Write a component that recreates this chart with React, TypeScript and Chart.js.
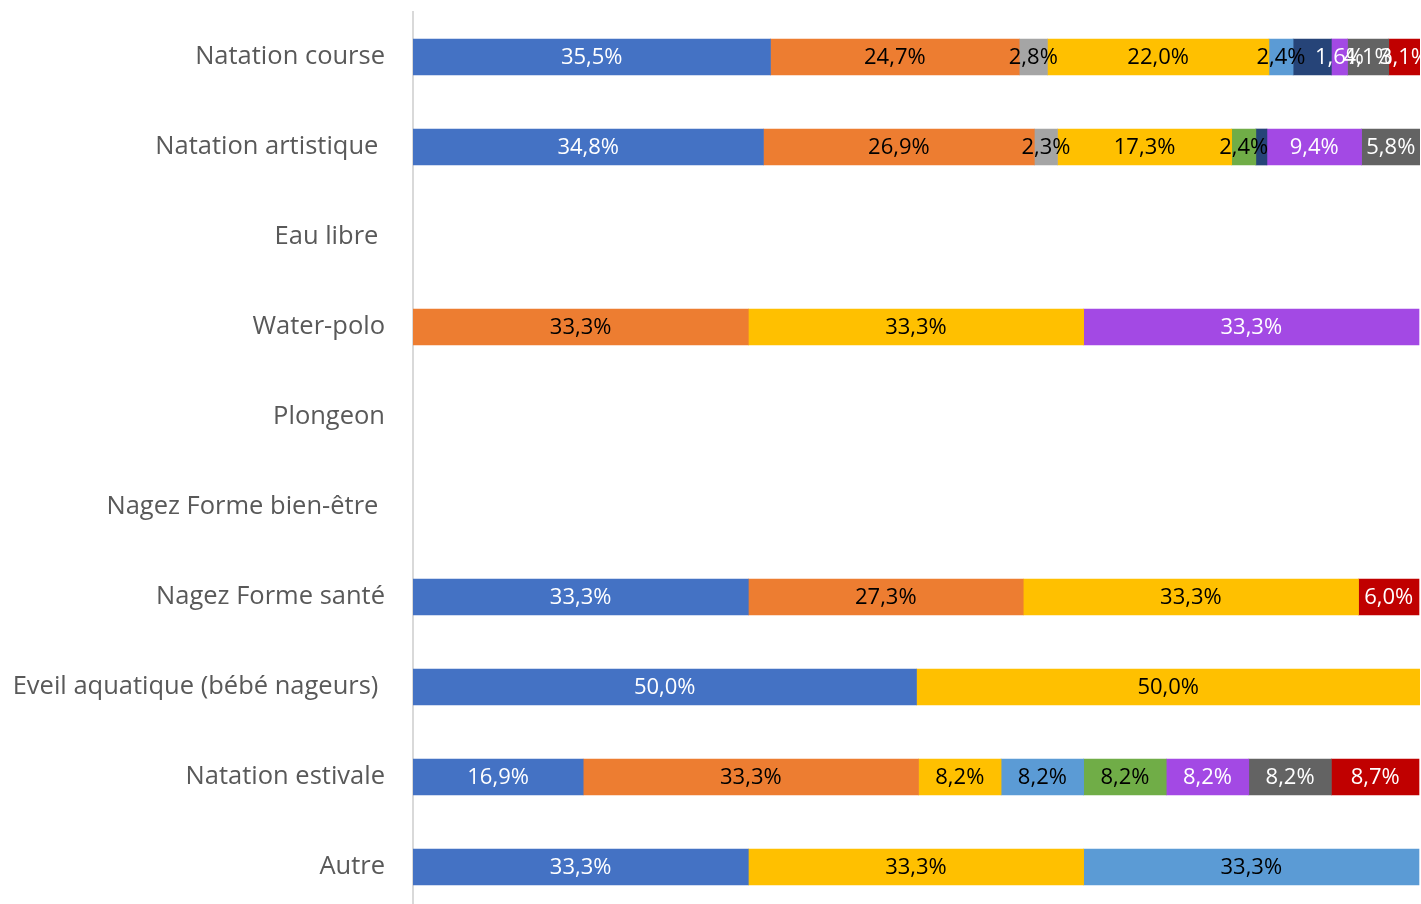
import React, { useEffect, useRef } from "react";
import { Chart, registerables } from "chart.js";

Chart.register(...registerables);

const categories = [
  "Natation course",
  "Natation artistique ",
  "Eau libre ",
  "Water-polo",
  "Plongeon",
  "Nagez Forme bien-être ",
  "Nagez Forme santé",
  "Eveil aquatique (bébé nageurs) ",
  "Natation estivale",
  "Autre",
];

const serie1 = [35.5, 34.8, null, null, null, null, 33.3, 50.0, 16.9, 33.3];
const serie2 = [24.7, 26.9, null, 33.3, null, null, 27.3, null, 33.3, null];
const serie3 = [2.8, 2.3, null, null, null, null, null, null, null, null];
const serie4 = [22.0, 17.3, null, 33.3, null, null, 33.3, 50.0, 8.2, 33.3];
const serie5 = [2.4, null, null, null, null, null, null, null, 8.2, 33.3];
const serie6 = [null, 2.4, null, null, null, null, null, null, 8.2, null];
const serie7 = [3.8, 1.1, null, null, null, null, null, null, null, null];
const serie8 = [1.6, 9.4, null, 33.3, null, null, null, null, 8.2, null];
const serie9 = [4.1, 5.8, null, null, null, null, null, null, 8.2, null];
const serie10 = [3.1, null, null, null, null, null, 6.0, null, 8.7, null];

const seriesValues = [serie1, serie2, serie3, serie4, serie5, serie6, serie7, serie8, serie9, serie10];
const seriesNames = ["Série 1", "Série 2", "Série 3", "Série 4", "Série 5", "Série 6", "Série 7", "Série 8", "Série 9", "Série 10"];
const seriesColors = ["#4472C4", "#ED7D31", "#A5A5A5", "#FFC000", "#5B9BD5", "#70AD47", "#264478", "#A349E4", "#636363", "#C00000"];
const labelColors = ["#FFFFFF", "#000000", "#000000", "#000000", "#000000", "#000000", "#FFFFFF", "#FFFFFF", "#FFFFFF", "#FFFFFF"];
// series 7 (dark blue) labels are not shown in the reference
const labelShown = [true, true, true, true, true, true, false, true, true, true];

const FONT = "'Open Sans', sans-serif";

const labelPlugin = {
  id: "segmentLabels",
  afterDatasetsDraw(chart: any) {
    const ctx = chart.ctx;
    ctx.save();
    ctx.font = `22px ${FONT}`;
    ctx.textAlign = "center";
    ctx.textBaseline = "middle";
    chart.data.datasets.forEach((ds: any, di: number) => {
      if (!labelShown[di]) return;
      const meta = chart.getDatasetMeta(di);
      meta.data.forEach((bar: any, i: number) => {
        const v = ds.data[i];
        if (v == null || v <= 0) return;
        const cx = (bar.x + bar.base) / 2;
        ctx.fillStyle = labelColors[di];
        ctx.fillText(v.toFixed(1).replace(".", ",") + "%", cx, bar.y + 1);
      });
    });
    ctx.restore();
  },
};

export default function App() {
  const ref = useRef<HTMLCanvasElement>(null);
  useEffect(() => {
    if (!ref.current) return;
    const chart = new Chart(ref.current, {
      type: "bar",
      data: {
        labels: categories,
        datasets: seriesValues.map((d, i) => ({
          label: seriesNames[i],
          data: d,
          backgroundColor: seriesColors[i],
          borderWidth: 0,
          barThickness: 36,
        })),
      },
      options: {
        indexAxis: "y",
        responsive: false,
        animation: false,
        layout: { padding: { top: 12, bottom: 18, right: 20, left: 0 } },
        plugins: { legend: { display: false }, tooltip: { enabled: false } },
        scales: {
          x: { stacked: true, min: 0, max: 100, display: false },
          y: {
            stacked: true,
            grid: { display: false, drawTicks: false },
            border: { display: true, color: "#D9D9D9", width: 2 },
            ticks: {
              color: "#595959",
              font: { family: FONT, size: 25.5 },
              padding: 28,
              autoSkip: false,
            },
            afterFit(scale: any) {
              scale.width = 413;
              scale.paddingTop = 0;
              scale.paddingBottom = 0;
            },
          },
        },
      },
      plugins: [labelPlugin],
    });
    return () => chart.destroy();
  }, []);
  return (
    <div style={{ position: "fixed", left: 0, top: 0, width: 1421, height: 904, overflow: "hidden", background: "#fff" }}>
      <canvas ref={ref} width={1440} height={930} style={{ display: "block" }} />
    </div>
  );
}
